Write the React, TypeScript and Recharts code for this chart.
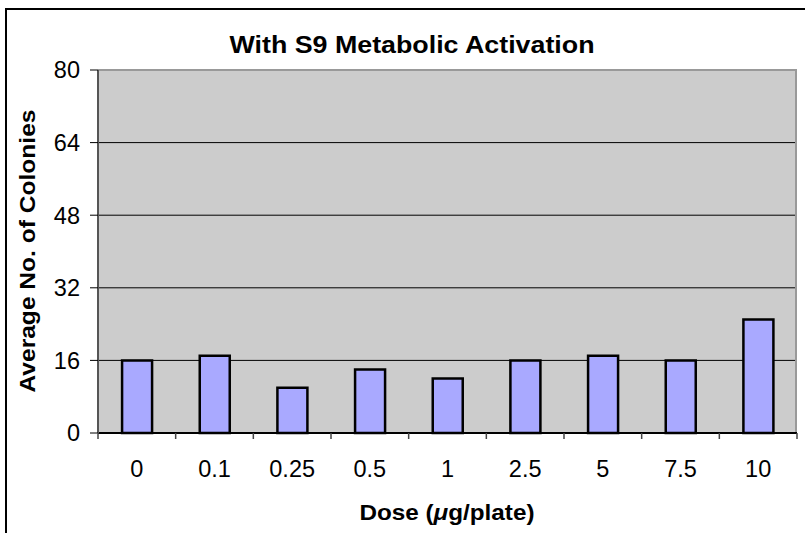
import React from 'react';
import { BarChart, Bar, XAxis, YAxis, CartesianGrid, ReferenceLine } from 'recharts';

const doses = ['0', '0.1', '0.25', '0.5', '1', '2.5', '5', '7.5', '10'];
const colonies = [16, 17, 10, 14, 12, 16, 17, 16, 25];
const yTicks = [0, 16, 32, 48, 64, 80];

const title = 'With S9 Metabolic Activation';
const yTitle = 'Average No. of Colonies';

const data = doses.map((d, i) => ({ dose: d, value: colonies[i] }));

const W = 805;
const H = 533;
const margin = { top: 70, right: 8, left: 38, bottom: 70 };
const yAxisWidth = 60;
const plotLeft = margin.left + yAxisWidth;
const plotRight = W - margin.right;
const plotWidth = plotRight - plotLeft;
const FONT = '"Liberation Sans", Arial, sans-serif';

const XTick = (props: any) => {
  const { x, y, payload, index } = props;
  const half = payload && typeof payload.offset === 'number' && payload.offset > 0 ? payload.offset : plotWidth / doses.length / 2;
  const isLast = index === doses.length - 1;
  return (
    <g>
      <line x1={x - half} x2={x - half} y1={y} y2={y + 6} stroke="#444" strokeWidth={1.5} />
      {isLast && <line x1={x + half} x2={x + half} y1={y} y2={y + 6} stroke="#444" strokeWidth={1.5} />}
      <text x={x} y={y + 44} textAnchor="middle" fontFamily={FONT} fontSize={23.5} fill="#000">
        {payload.value}
      </text>
    </g>
  );
};

export default function App() {
  return (
    <div style={{ position: 'absolute', left: 0, top: 0, width: W, height: H, overflow: 'hidden', background: '#fff' }}>
      <BarChart width={W} height={H} data={data} margin={margin} barCategoryGap="31%">
        <CartesianGrid vertical={false} stroke="#000" strokeWidth={1} fill="#CCCCCC" fillOpacity={1} />
        <CartesianGrid horizontal={false} vertical={true} verticalPoints={[plotRight - 1]} stroke="#999" strokeWidth={2} />
        <ReferenceLine y={80} stroke="#999" strokeWidth={2} />
        <XAxis
          dataKey="dose"
          height={30}
          tickLine={false}
          tickSize={0}
          tickMargin={0}
          axisLine={{ stroke: '#000', strokeWidth: 2 }}
          tick={<XTick />}
          interval={0}
        />
        <YAxis
          width={yAxisWidth}
          domain={[0, 80]}
          ticks={yTicks}
          interval={0}
          tickSize={8}
          tickMargin={10}
          tickLine={{ stroke: '#000', strokeWidth: 1 }}
          axisLine={{ stroke: '#555', strokeWidth: 2 }}
          tick={{ fontFamily: FONT, fontSize: 23.5, fill: '#000' }}
        />
        <Bar dataKey="value" fill="#A9A9FF" stroke="#000" strokeWidth={2.5} isAnimationActive={false} />
      </BarChart>
      <svg width={W} height={H} style={{ position: 'absolute', left: 0, top: 0, pointerEvents: 'none' }}>
        <line x1={6} y1={9} x2={W} y2={9} stroke="#000" strokeWidth={2} />
        <line x1={6} y1={8} x2={6} y2={H} stroke="#000" strokeWidth={2} />
        <text
          x={412}
          y={53}
          textAnchor="middle"
          fontFamily={FONT}
          fontWeight="bold"
          fontSize={23.5}
          fill="#000"
          textLength={365}
          lengthAdjust="spacingAndGlyphs"
        >
          {title}
        </text>
        <text
          x={35}
          y={251}
          transform="rotate(-90 35 251)"
          textAnchor="middle"
          fontFamily={FONT}
          fontWeight="bold"
          fontSize={22.5}
          fill="#000"
          textLength={283}
          lengthAdjust="spacingAndGlyphs"
        >
          {yTitle}
        </text>
        <text
          x={447}
          y={520}
          textAnchor="middle"
          fontFamily={FONT}
          fontWeight="bold"
          fontSize={22.5}
          fill="#000"
          textLength={175}
          lengthAdjust="spacingAndGlyphs"
        >
          Dose (<tspan fontStyle="italic">μ</tspan>g/plate)
        </text>
      </svg>
    </div>
  );
}
